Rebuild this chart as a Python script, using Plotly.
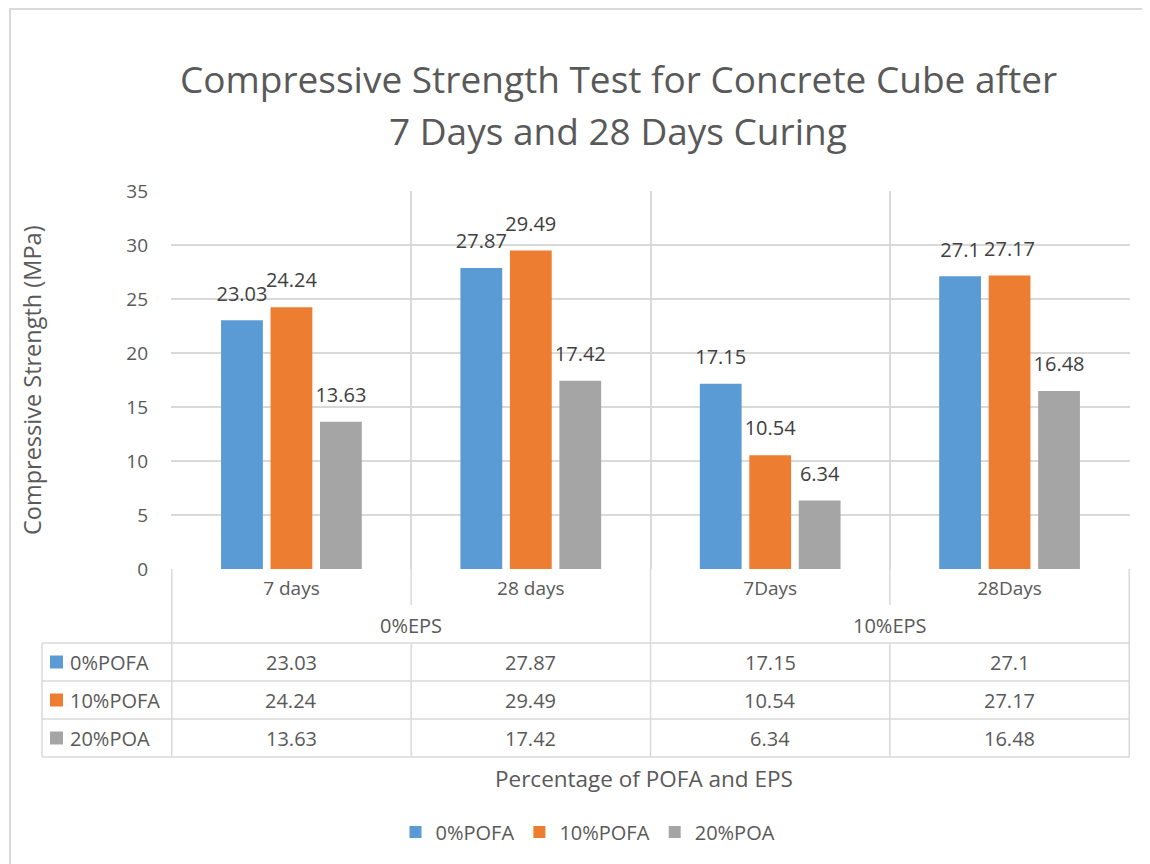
import plotly.graph_objects as go

# data
CATEGORIES = ["7 days", "28 days", "7Days", "28Days"]
EPS_GROUPS = ["0%EPS", "10%EPS"]
EPS_MEMBERS = [[0, 1], [2, 3]]
SERIES = ["0%POFA", "10%POFA", "20%POA"]
POFA_0 = [23.03, 27.87, 17.15, 27.1]
POFA_10 = [24.24, 29.49, 10.54, 27.17]
POA_20 = [13.63, 17.42, 6.34, 16.48]
VALUES = [POFA_0, POFA_10, POA_20]
COLORS = ["#5B9BD5", "#ED7D31", "#A5A5A5"]

TEXT = "#595959"
GRID = "#D9D9D9"
FONT = "Open Sans"

# page coordinates (the page body adds an 8px margin around the figure)
OFF = 8
W, H = 1150 - OFF, 864 - OFF
L, R, T, B = 171, 1130, 191, 569
BARGAP = 0.38


def px_x(x):
    return (x - L) / (R - L)


def px_y(y):
    return (B - y) / (B - T)


def font(size):
    return dict(size=size, color=TEXT, family=FONT)


fig = go.Figure()
for name, vals, col in zip(SERIES, VALUES, COLORS):
    fig.add_trace(go.Bar(
        x=CATEGORIES, y=vals, name=name, marker_color=col, marker_line_width=0,
        offsetgroup=name, hoverinfo="skip",
    ))
# data labels, grouped like the bars
for name, vals in zip(SERIES, VALUES):
    fig.add_trace(go.Scatter(
        x=CATEGORIES, y=vals, mode="markers+text", offsetgroup=name,
        text=[str(v) for v in vals], textposition="top center",
        marker=dict(size=22, opacity=0), textfont=dict(size=20, color="#404040", family=FONT),
        showlegend=False, hoverinfo="skip", cliponaxis=False,
    ))

shapes = []
# chart frame
shapes.append(dict(type="rect", xref="paper", yref="paper",
                   x0=px_x(10), x1=px_x(1175), y0=px_y(9), y1=px_y(900),
                   line=dict(color=GRID, width=2)))

# data table grid
for y in [643, 681, 719, 757]:
    shapes.append(dict(type="line", xref="paper", yref="paper",
                       x0=px_x(42), x1=1, y0=px_y(y), y1=px_y(y),
                       line=dict(color=GRID, width=1.5)))
shapes.append(dict(type="line", xref="paper", yref="paper",
                   x0=px_x(42), x1=px_x(42), y0=px_y(643), y1=px_y(757),
                   line=dict(color=GRID, width=1.5)))
for i in range(len(CATEGORIES) + 1):
    xb = i - 0.5
    segs = [(569, 757)] if i in (0, 2, 4) else [(569, 605), (643, 757)]
    for y0, y1 in segs:
        shapes.append(dict(type="line", xref="x", yref="paper",
                           x0=xb, x1=xb, y0=px_y(y0), y1=px_y(y1),
                           line=dict(color=GRID, width=1.5)))

# legend keys inside the table
row_centers = [662, 700, 738]
for col, yc in zip(COLORS, row_centers):
    shapes.append(dict(type="rect", xref="paper", yref="paper",
                       x0=px_x(50), x1=px_x(63), y0=px_y(yc - 6.5), y1=px_y(yc + 6.5),
                       fillcolor=col, line_width=0))

ann = []


def label(text, x, y, size, xref="paper", xanchor="center", **kw):
    ann.append(dict(text=text, xref=xref, yref="paper", x=x, y=y,
                    xanchor=xanchor, yanchor="middle", showarrow=False,
                    font=font(size), **kw))


# title
label("Compressive Strength Test for Concrete Cube after", px_x(618), px_y(78), 37)
label("7 Days and 28 Days Curing", px_x(618), px_y(130), 37)
# axis titles
label("Compressive Strength (MPa)", px_x(32), 0.5, 23.5, textangle=-90)
label("Percentage of POFA and EPS", px_x(644), px_y(778), 22.5)
# EPS group labels
for g, members in zip(EPS_GROUPS, EPS_MEMBERS):
    label(g, sum(members) / len(members), px_y(625), 20, xref="x")
# table rows
for name, vals, yc in zip(SERIES, VALUES, row_centers):
    label(name, px_x(68), px_y(yc), 20, xanchor="left")
    for i, v in enumerate(vals):
        label(str(v), i, px_y(yc), 20, xref="x")

fig.update_layout(
    width=W, height=H,
    margin=dict(l=L - OFF, r=W - (R - OFF), t=T - OFF, b=H - (B - OFF)),
    paper_bgcolor="white", plot_bgcolor="white",
    barmode="group", bargap=BARGAP, bargroupgap=0.155,
    scattermode="group", scattergap=BARGAP,
    font=dict(family=FONT, color=TEXT),
    shapes=shapes, annotations=ann,
    legend=dict(orientation="h", x=px_x(588), xanchor="center",
                y=px_y(832), yanchor="middle", font=font(20)),
    xaxis=dict(type="category", tickson="boundaries", showgrid=True,
               gridcolor=GRID, gridwidth=1.5, ticks="", showline=False,
               tickfont=font(19), ticklabelstandoff=6, zeroline=False),
    yaxis=dict(range=[0, 35], dtick=5, showgrid=True, gridcolor=GRID, gridwidth=1.5,
               zeroline=False, showline=False, ticks="",
               tickfont=font(19), ticklabelstandoff=22),
)

fig.write_html("out.html")
